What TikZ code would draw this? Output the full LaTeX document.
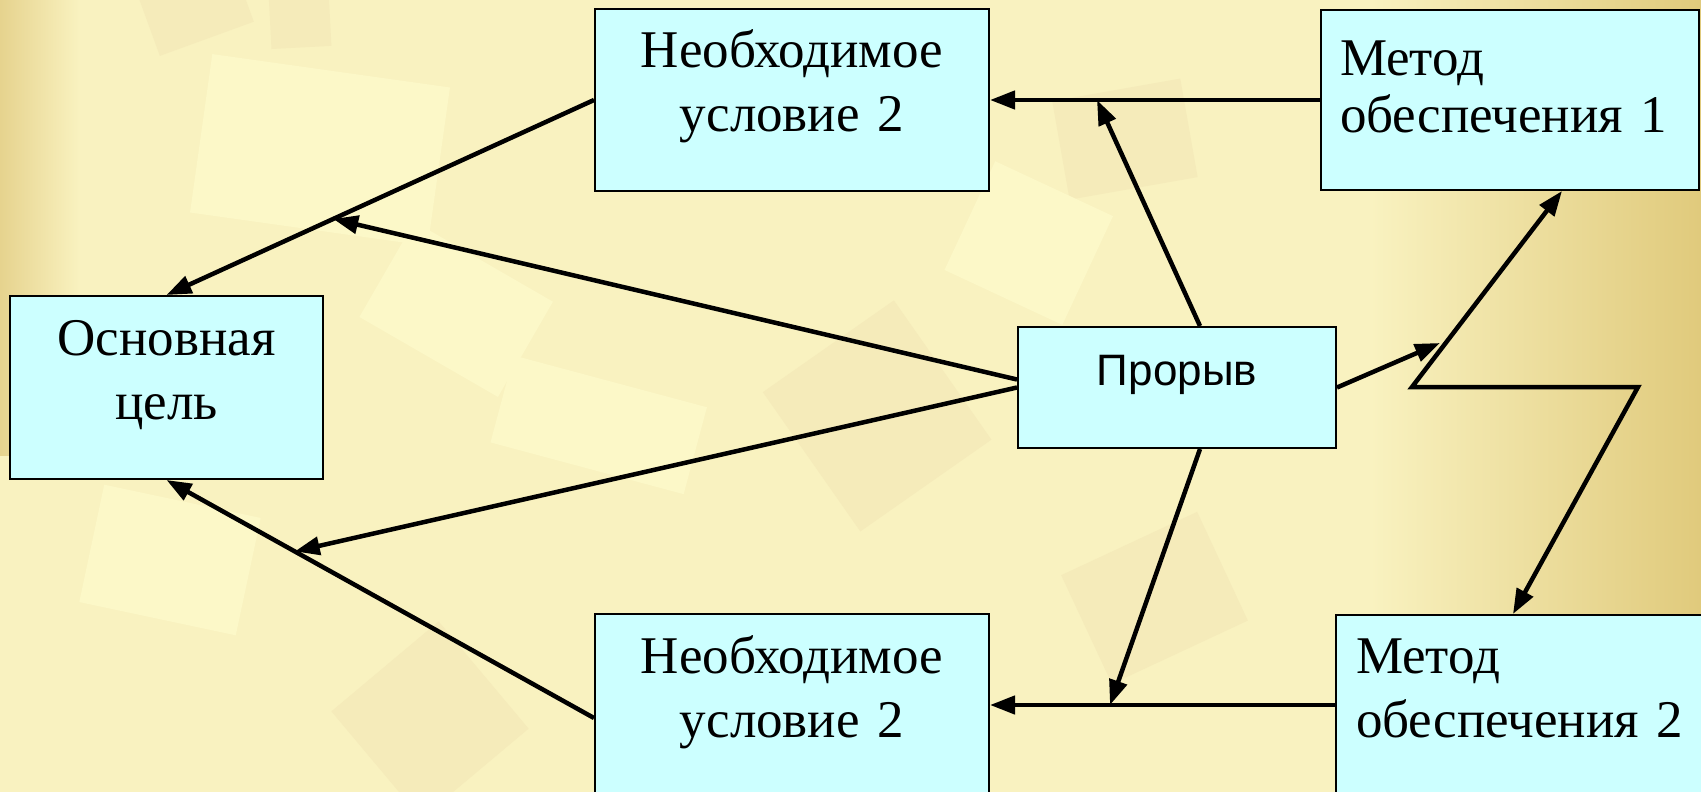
\documentclass[tikz,border=0pt]{standalone}
\usepackage{fontspec}
\setmainfont{Liberation Serif}
\newfontfamily\arialfont{Liberation Sans}
\usetikzlibrary{calc,arrows.meta}

\definecolor{boxcyan}{HTML}{CCFFFF}
\definecolor{paper}{HTML}{F9F2C0}
\definecolor{gold}{HTML}{E0CA7C}
\definecolor{goldleft}{HTML}{E6D38E}
\definecolor{patchlight}{HTML}{FCF8C8}
\definecolor{patchdark}{HTML}{F5EBBA}

\tikzset{
  box/.style={draw=black, line width=2pt, fill=boxcyan, inner ysep=0pt, anchor=base,
    font=\fontsize{53}{64}\selectfont},
  link/.style={line width=4.5pt, -{Triangle[length=25pt,width=18pt]}},
}

\begin{document}
\begin{tikzpicture}[x=1pt, y=-1pt]
  \useasboundingbox (0,0) rectangle (1701,792);
  \clip (0,0) rectangle (1701,792);

  % background
  \fill[paper] (0,0) rectangle (1701,792);
  \fill[patchlight, rotate around={-8:(320,150)}] (200,70) rectangle (440,230);
  \fill[patchdark, rotate around={20:(200,20)}] (150,-20) rectangle (250,40);
  \fill[patchdark, rotate around={3:(290,20)}] (270,-10) rectangle (330,48);
  \fill[patchlight, rotate around={-30:(450,300)}] (380,250) rectangle (540,360);
  \fill[patchdark, rotate around={35:(880,420)}] (800,330) rectangle (960,500);
  \fill[patchlight, rotate around={-15:(600,420)}] (500,380) rectangle (700,470);
  \fill[patchdark, rotate around={10:(1120,140)}] (1060,90) rectangle (1190,190);
  \fill[patchlight, rotate around={-25:(1020,250)}] (960,180) rectangle (1090,300);
  \fill[patchdark, rotate around={40:(430,720)}] (360,650) rectangle (500,790);
  \fill[patchlight, rotate around={-12:(170,560)}] (90,500) rectangle (250,620);
  \fill[patchdark, rotate around={25:(1150,600)}] (1080,540) rectangle (1230,660);
  \shade[left color=goldleft, right color=paper] (0,0) rectangle (80,455);
  \shade[left color=paper, right color=gold] (1370,0) rectangle (1701,792);

  % boxes
  \node[box, inner xsep=0pt, text width=313pt, align=center, text height=59pt, text depth=124pt]
    (goal) at (166.5,355) {Основная\\цель};
  \node[box, inner xsep=0pt, text width=394pt, align=center, text height=59pt, text depth=123pt]
    (cond1) at (792,68) {Необходимое\\условие 2};
  \node[box, inner xsep=0pt, text width=394pt, align=center, text height=59pt, text depth=149pt]
    (cond2) at (792,673) {Необходимое\\условие 2};
  \node[box, inner xsep=19pt, text width=340pt, align=left, text height=66pt, text depth=114pt,
    font=\fontsize{53}{57}\selectfont]
    (method1) at (1510,76) {Метод\\обеспечения 1};
  \node[box, inner xsep=20pt, text width=344pt, align=left, text height=58pt, text depth=122pt]
    (method2) at (1528,673) {Метод\\обеспечения 2};
  \node[box, inner xsep=0pt, text width=318pt, align=center, text height=58pt, text depth=63pt,
    font=\arialfont\fontsize{44}{53}\selectfont]
    (brk) at (1177,385) {Прорыв};

  % points on the lines
  \coordinate (up) at ($(cond1.west)!0.61!(goal.north)$);
  \coordinate (down) at ($(cond2.west)!0.70!(goal.south)$);
  \coordinate (topjoin) at (1097,100);
  \coordinate (botjoin) at (1110,705);
  \coordinate (bolt) at (1440,343);
  \coordinate (zleft) at (1412,387);
  \coordinate (zright) at (1638,387);

  % connectors
  \draw[link] (cond1.west) -- (goal.north);
  \draw[link] (cond2.west) -- (goal.south);
  \draw[link] ([yshift=8pt]brk.west) -- (up);
  \draw[link] (brk.west) -- (down);
  \draw[link] (method1.west) -- (cond1.east);
  \draw[link] (method2.west) -- (cond2.east |- method2.west);
  \draw[link] ([xshift=23pt]brk.north) -- (topjoin);
  \draw[link] ([xshift=23pt]brk.south) -- (botjoin);
  \draw[link] (brk.east) -- (bolt);
  % lightning
  \draw[link, {Triangle[length=25pt,width=18pt]}-{Triangle[length=25pt,width=18pt]}, line join=miter]
    ([xshift=52pt]method1.south) -- (zleft) -- (zright) -- ([xshift=-15pt]method2.north);
\end{tikzpicture}
\end{document}
